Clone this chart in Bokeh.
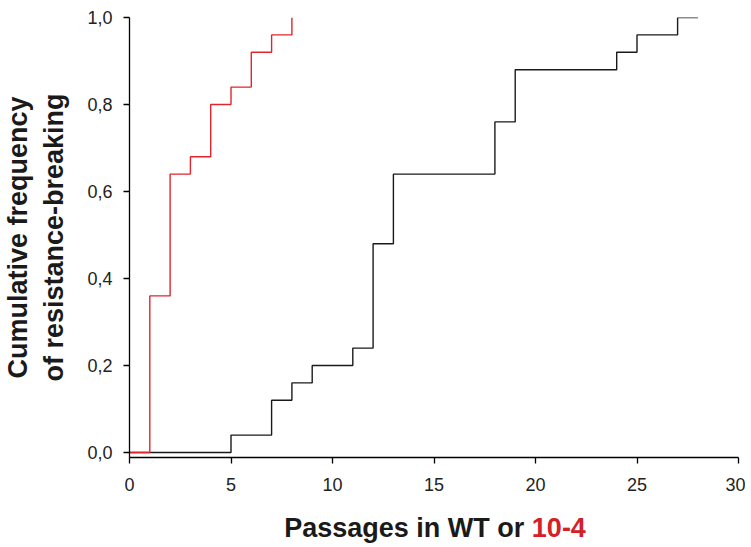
from bokeh.plotting import figure
from bokeh.layouts import column
from bokeh.models import Range1d, FixedTicker, CustomJSTickFormatter
from bokeh.core.properties import value
from bokeh.embed import file_html
from bokeh.resources import INLINE

# Data: cumulative frequency of resistance-breaking
wt_passages = [0, 5, 7, 8, 9, 11, 12, 13, 18, 19, 24, 25, 27, 28]
wt_freq = [0.0, 0.04, 0.12, 0.16, 0.20, 0.24, 0.48, 0.64, 0.76, 0.88, 0.92, 0.96, 1.0, 1.0]

mut_passages = [0, 1, 2, 3, 4, 5, 6, 7, 8]
mut_freq = [0.0, 0.36, 0.64, 0.68, 0.80, 0.84, 0.92, 0.96, 1.0]

x_ticks = [0, 5, 10, 15, 20, 25, 30]
y_ticks = [0.0, 0.2, 0.4, 0.6, 0.8, 1.0]

x_title_parts = ["Passages in WT or ", "10-4"]
y_title = "Cumulative frequency\nof resistance-breaking"

RED = "#e0262c"
TITLE_RED = "#d42027"
FONT = "Liberation Sans"

p = figure(width=745, height=500, output_backend="svg", toolbar_location=None, title=None,
           x_range=Range1d(0, 30), y_range=Range1d(-0.0115, 1.0),
           min_border_left=129, min_border_right=7, min_border_top=17, min_border_bottom=43)
p.outline_line_color = None
p.xgrid.visible = False
p.ygrid.visible = False

for ax in (p.xaxis[0], p.yaxis[0]):
    ax.axis_line_color = "black"
    ax.axis_line_width = 1.3
    ax.major_tick_line_color = "black"
    ax.major_tick_line_width = 1.3
    ax.major_tick_out = 6
    ax.major_tick_in = 0
    ax.minor_tick_line_color = None
    ax.major_label_text_font = FONT
    ax.major_label_text_font_size = "18px"
    ax.major_label_text_color = "#222222"

p.xaxis.ticker = FixedTicker(ticks=x_ticks)
p.yaxis.ticker = FixedTicker(ticks=y_ticks)
p.yaxis.formatter = CustomJSTickFormatter(code="return tick.toFixed(1).replace('.', ',');")
p.xaxis.major_label_standoff = 14
p.yaxis.major_label_standoff = 11

p.yaxis.axis_label = y_title
p.yaxis.axis_label_text_font = FONT
p.yaxis.axis_label_text_font_size = "27px"
p.yaxis.axis_label_text_font_style = "bold"
p.yaxis.axis_label_text_color = "#1a1a1a"
p.yaxis.axis_label_standoff = 15

p.step(wt_passages, wt_freq, mode="after", line_color="#1a1a1a", line_width=1.4)
p.step(mut_passages, mut_freq, mode="after", line_color=RED, line_width=1.4)

# x-axis title row (two-coloured text), sharing the x scale of the plot
t = figure(width=745, height=47, output_backend="svg", toolbar_location=None, title=None,
           x_range=p.x_range, y_range=Range1d(0, 47),
           x_axis_location=None, y_axis_location=None,
           min_border_left=129, min_border_right=7, min_border_top=0, min_border_bottom=0)
t.outline_line_color = None
t.xgrid.visible = False
t.ygrid.visible = False
t.text(x=[7.62], y=[20], text=[x_title_parts[0]], text_font=value(FONT),
       text_font_size="27px", text_font_style="bold", text_color="#1a1a1a",
       text_align="left", text_baseline="alphabetic")
t.text(x=[19.82], y=[20], text=[x_title_parts[1]], text_font=value(FONT),
       text_font_size="27px", text_font_style="bold", text_color=TITLE_RED,
       text_align="left", text_baseline="alphabetic")

layout = column(p, t, spacing=0)
open("out.html", "w").write(file_html(layout, INLINE))
